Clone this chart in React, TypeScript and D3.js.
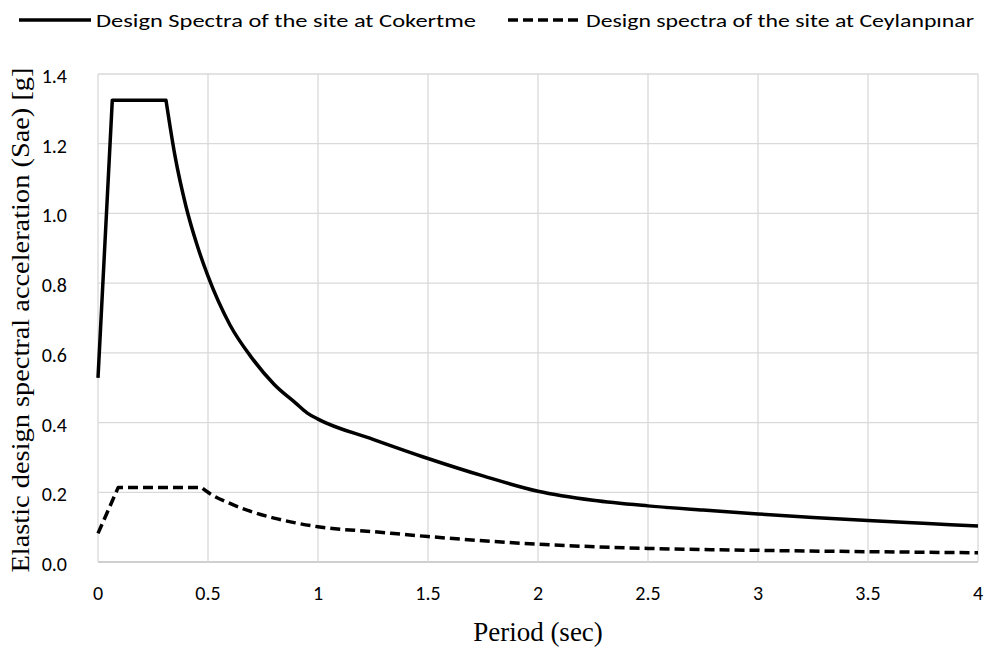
import React from "react";
import * as d3 from "d3";

const cokertmeT = [0, 0.065, 0.309, 0.35, 0.4, 0.45, 0.5, 0.6, 0.7, 0.8, 0.9, 0.95, 1.0, 1.25, 1.5, 1.75, 2.0, 2.25, 2.5, 2.75, 3.0, 3.25, 3.5, 3.75, 4.0];
const cokertmeSae = [0.528, 1.325, 1.325, 1.165, 1.02, 0.91, 0.82, 0.68, 0.585, 0.51, 0.455, 0.428, 0.41, 0.352, 0.297, 0.247, 0.203, 0.177, 0.161, 0.149, 0.138, 0.128, 0.119, 0.111, 0.103];
const cokertmePlateauEnd = 2;

const ceylanT = [0, 0.092, 0.471, 0.5, 0.6, 0.7, 0.8, 0.9, 1.0, 1.25, 1.5, 1.75, 2.0, 2.5, 3.0, 3.5, 4.0];
const ceylanSae = [0.082, 0.214, 0.214, 0.2, 0.168, 0.144, 0.126, 0.112, 0.101, 0.087, 0.073, 0.061, 0.051, 0.039, 0.0335, 0.0296, 0.0265];
const ceylanPlateauEnd = 2;

const xTicks = [0, 0.5, 1, 1.5, 2, 2.5, 3, 3.5, 4];
const yTicks = [0, 0.2, 0.4, 0.6, 0.8, 1.0, 1.2, 1.4];

const seriesNames = ["Design Spectra of the site at Cokertme", "Design spectra of the site at Ceylanpınar"];

const W = 989;
const H = 650;
const M = { left: 98, right: 978, top: 74, bottom: 562 };
const sansFont = "Carlito, Calibri, 'Liberation Sans Narrow', 'Open Sans', sans-serif";
const serifFont = "'Liberation Serif', 'Times New Roman', serif";

export default function App() {
  const x = d3.scaleLinear().domain([0, 4]).range([M.left, M.right]);
  const y = d3.scaleLinear().domain([0, 1.4]).range([M.bottom, M.top]);

  const linLine = d3
    .line<[number, number]>()
    .x((d) => x(d[0]))
    .y((d) => y(d[1]))
    .curve(d3.curveLinear);
  const smoothLine = d3
    .line<[number, number]>()
    .x((d) => x(d[0]))
    .y((d) => y(d[1]))
    .curve(d3.curveMonotoneX);

  const buildPath = (ts: number[], vs: number[], split: number) => {
    const pts: [number, number][] = ts.map((t, i) => [t, vs[i]]);
    const a = linLine(pts.slice(0, split + 1)) || "";
    const b = smoothLine(pts.slice(split)) || "";
    return a + b.replace(/^M[^CLZ]*/, "");
  };

  const solidPath = buildPath(cokertmeT, cokertmeSae, cokertmePlateauEnd);
  const dashPath = buildPath(ceylanT, ceylanSae, ceylanPlateauEnd);

  return (
    <svg width={W} height={H} style={{ position: "absolute", left: 0, top: 0, background: "#fff" }}>
      <rect x={0} y={0} width={W} height={H} fill="#fff" />
      {yTicks.map((t) => (
        <line key={"gy" + t} x1={M.left} x2={M.right} y1={y(t)} y2={y(t)} stroke={t === 0 ? "#bfbfbf" : "#d9d9d9"} strokeWidth={1.3} />
      ))}
      {xTicks.map((t) => (
        <line key={"gx" + t} x1={x(t)} x2={x(t)} y1={M.top} y2={M.bottom} stroke="#d9d9d9" strokeWidth={1.3} />
      ))}
      {yTicks.map((t) => (
        <text key={"ty" + t} x={67} y={y(t) + 2} dy="0.35em" textAnchor="end" fontFamily={sansFont} fontSize={20} fill="#000">
          {t.toFixed(1)}
        </text>
      ))}
      {xTicks.map((t) => (
        <text key={"tx" + t} x={x(t)} y={593} dy="0.35em" textAnchor="middle" fontFamily={sansFont} fontSize={20} fill="#000">
          {String(t)}
        </text>
      ))}
      <path d={solidPath} fill="none" stroke="#000" strokeWidth={3.5} strokeLinejoin="round" />
      <path d={dashPath} fill="none" stroke="#000" strokeWidth={3.5} strokeDasharray="10 5" strokeLinejoin="round" />
      <text x={538} y={641} textAnchor="middle" fontFamily={serifFont} fontSize={27} fill="#000">
        Period (sec)
      </text>
      <text
        transform={`translate(29, ${(M.top + M.bottom) / 2 + 2}) rotate(-90)`}
        textAnchor="middle"
        fontFamily={serifFont}
        fontSize={26}
        fill="#000"
        textLength={505}
        lengthAdjust="spacingAndGlyphs"
      >
        Elastic design spectral acceleration (Sae) [g]
      </text>
      <line x1={19} x2={91} y1={20} y2={20} stroke="#000" strokeWidth={3.5} />
      <text x={96} y={20} dy="0.35em" fontFamily={sansFont} fontSize={19} fill="#000" textLength={380} lengthAdjust="spacingAndGlyphs">
        {seriesNames[0]}
      </text>
      <line x1={508} x2={580} y1={20} y2={20} stroke="#000" strokeWidth={3.5} strokeDasharray="10 5" />
      <text x={586} y={20} dy="0.35em" fontFamily={sansFont} fontSize={19} fill="#000" textLength={388} lengthAdjust="spacingAndGlyphs">
        {seriesNames[1]}
      </text>
    </svg>
  );
}
